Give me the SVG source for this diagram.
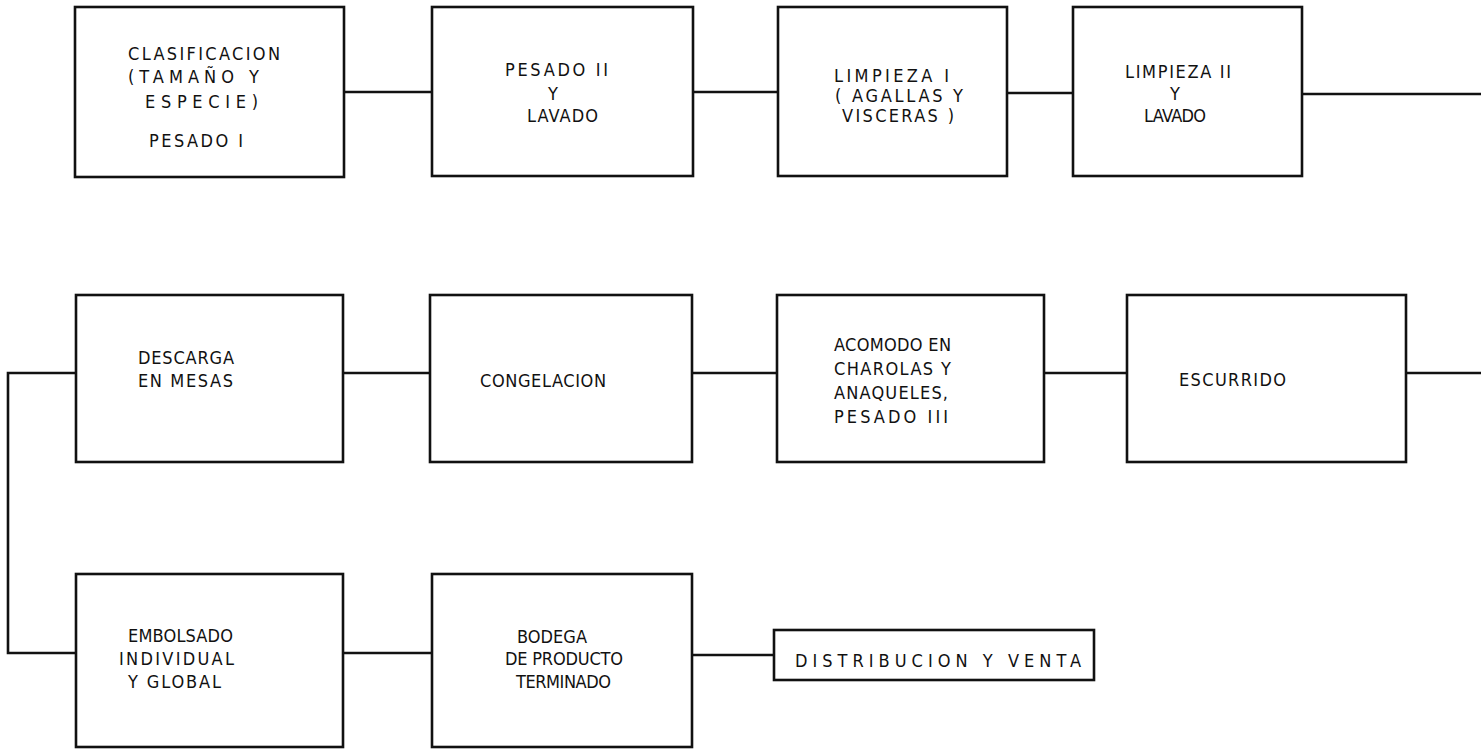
<svg xmlns="http://www.w3.org/2000/svg" width="1481" height="750" viewBox="0 0 1481 750">
<style>
.box{fill:#fff;stroke:#111;stroke-width:2.6}
.ln{fill:none;stroke:#111;stroke-width:2.6}
text{font-family:"DejaVu Sans Condensed","DejaVu Sans","Liberation Sans",sans-serif;font-stretch:condensed;font-size:18px;fill:#111}
</style>
<rect width="1481" height="750" fill="#fff"/>
<g id="connectors">
<line class="ln" x1="344" y1="92" x2="432" y2="92"/>
<line class="ln" x1="693" y1="92" x2="778" y2="92"/>
<line class="ln" x1="1007" y1="93" x2="1073" y2="93"/>
<line class="ln" x1="1302" y1="94" x2="1481" y2="94"/>
<path class="ln" d="M76,373 H8 V653 H76"/>
<line class="ln" x1="343" y1="373" x2="430" y2="373"/>
<line class="ln" x1="692" y1="373" x2="777" y2="373"/>
<line class="ln" x1="1044" y1="373" x2="1127" y2="373"/>
<line class="ln" x1="1406" y1="373" x2="1481" y2="373"/>
<line class="ln" x1="343" y1="653" x2="432" y2="653"/>
<line class="ln" x1="692" y1="655" x2="774" y2="655"/>
</g>
<g id="n1">
<rect class="box" x="75" y="7" width="269" height="170"/>
<text x="128" y="60" textLength="152" lengthAdjust="spacing">CLASIFICACION</text>
<text x="128" y="83" textLength="131" lengthAdjust="spacing">(TAMAÑO Y</text>
<text x="145" y="108" textLength="113" lengthAdjust="spacing">ESPECIE)</text>
<text x="149" y="147" textLength="94" lengthAdjust="spacing">PESADO I</text>
</g>
<g id="n2">
<rect class="box" x="432" y="7" width="261" height="169"/>
<text x="505" y="76" textLength="103" lengthAdjust="spacing">PESADO II</text>
<text x="548" y="100">Y</text>
<text x="527" y="122" textLength="71" lengthAdjust="spacing">LAVADO</text>
</g>
<g id="n3">
<rect class="box" x="778" y="7" width="229" height="169"/>
<text x="834" y="82" textLength="115" lengthAdjust="spacing">LIMPIEZA I</text>
<text x="835" y="102" textLength="128" lengthAdjust="spacing">( AGALLAS Y</text>
<text x="842" y="122" textLength="112" lengthAdjust="spacing">VISCERAS )</text>
</g>
<g id="n4">
<rect class="box" x="1073" y="7" width="229" height="169"/>
<text x="1125" y="78" textLength="106" lengthAdjust="spacing">LIMPIEZA II</text>
<text x="1170" y="100">Y</text>
<text x="1144" y="122" textLength="62" lengthAdjust="spacing">LAVADO</text>
</g>
<g id="n5">
<rect class="box" x="76" y="295" width="267" height="167"/>
<text x="138" y="364" textLength="96" lengthAdjust="spacing">DESCARGA</text>
<text x="138" y="387" textLength="95" lengthAdjust="spacing">EN MESAS</text>
</g>
<g id="n6">
<rect class="box" x="430" y="295" width="262" height="167"/>
<text x="480" y="387" textLength="126" lengthAdjust="spacing">CONGELACION</text>
</g>
<g id="n7">
<rect class="box" x="777" y="295" width="267" height="167"/>
<text x="834" y="351" textLength="117" lengthAdjust="spacing">ACOMODO EN</text>
<text x="834" y="375" textLength="117" lengthAdjust="spacing">CHAROLAS Y</text>
<text x="834" y="399" textLength="114" lengthAdjust="spacing">ANAQUELES,</text>
<text x="834" y="423" textLength="114" lengthAdjust="spacing">PESADO III</text>
</g>
<g id="n8">
<rect class="box" x="1127" y="295" width="279" height="167"/>
<text x="1179" y="386" textLength="107" lengthAdjust="spacing">ESCURRIDO</text>
</g>
<g id="n9">
<rect class="box" x="76" y="574" width="267" height="173"/>
<text x="128" y="642" textLength="105" lengthAdjust="spacing">EMBOLSADO</text>
<text x="119" y="665" textLength="115" lengthAdjust="spacing">INDIVIDUAL</text>
<text x="128" y="688" textLength="93" lengthAdjust="spacing">Y GLOBAL</text>
</g>
<g id="n10">
<rect class="box" x="432" y="574" width="260" height="173"/>
<text x="517" y="643" textLength="70" lengthAdjust="spacing">BODEGA</text>
<text x="505" y="665" textLength="118" lengthAdjust="spacing">DE PRODUCTO</text>
<text x="516" y="688" textLength="95" lengthAdjust="spacing">TERMINADO</text>
</g>
<g id="n11">
<rect class="box" x="774" y="630" width="320" height="50"/>
<text x="795" y="667" textLength="286" lengthAdjust="spacing">DISTRIBUCION Y VENTA</text>
</g>
</svg>
